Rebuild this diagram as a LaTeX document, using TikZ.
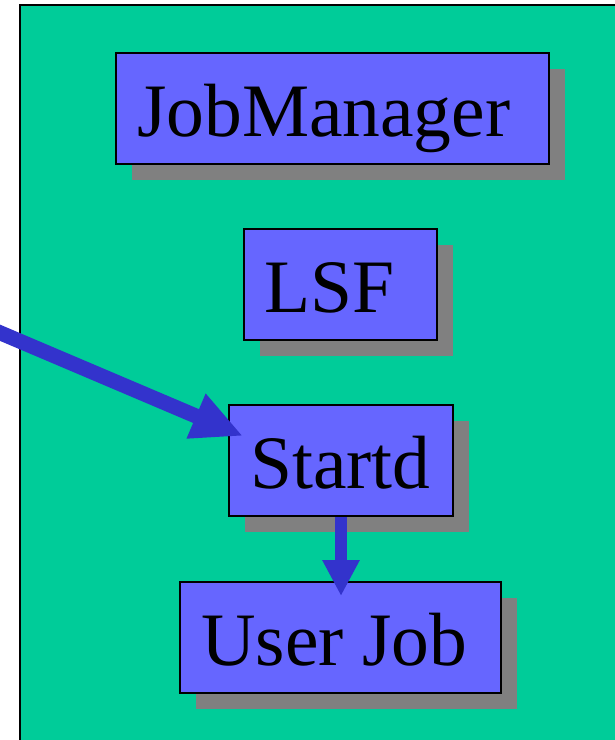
\documentclass[tikz,border=0pt]{standalone}
\usepackage{fontspec}
\setmainfont{Liberation Serif}
\usetikzlibrary{arrows.meta,shadows}
\definecolor{bggreen}{HTML}{00CC99}
\definecolor{boxblue}{HTML}{6666FF}
\definecolor{shadowgray}{HTML}{808080}
\definecolor{arrowblue}{HTML}{3333CC}
\begin{document}
\begin{tikzpicture}[x=1pt,y=-1pt,
  boxnode/.style={draw=black, line width=2pt, fill=boxblue, inner sep=0pt,
    minimum height=111pt,
    general shadow={fill=shadowgray, shadow xshift=16pt, shadow yshift=-16pt}},
  label/.style={anchor=base west, inner sep=0pt, font=\fontsize{75.5}{80}\selectfont},
  bigarrow/.style={draw=arrowblue, line width=#1}
]
\useasboundingbox (0,0) rectangle (615,740);
\fill[white] (0,0) rectangle (615,740);
\draw[line width=2pt, fill=bggreen] (20,5) rectangle (640,760);

\node[boxnode, minimum width=433pt] (jm) at (332.5,108.5) {};
\node[boxnode, minimum width=193pt] (lsf) at (340.5,284.5) {};
\node[boxnode, minimum width=224pt] (startd) at (341,460.5) {};
\node[boxnode, minimum width=321pt] (uj) at (340.5,637.5) {};

\node[label] (jmt) at (137,136) {JobManager};
\node[label] (lsft) at (264,312) {LSF};
\node[label] (startdt) at (250,488) {Startd};
\node[label] (ujt) at (201,665) {User Job};

\coordinate (src) at (-30,320);
\draw[bigarrow=15pt, -{Triangle[length=51pt,width=45pt]}]
  (src) -- ([shift={(15,32)}]startd.north west);
\draw[bigarrow=12pt, -{Triangle[length=36pt,width=35pt]}]
  (startd.south) -- ([yshift=-15pt]uj.north -| startd.south);
\end{tikzpicture}
\end{document}
